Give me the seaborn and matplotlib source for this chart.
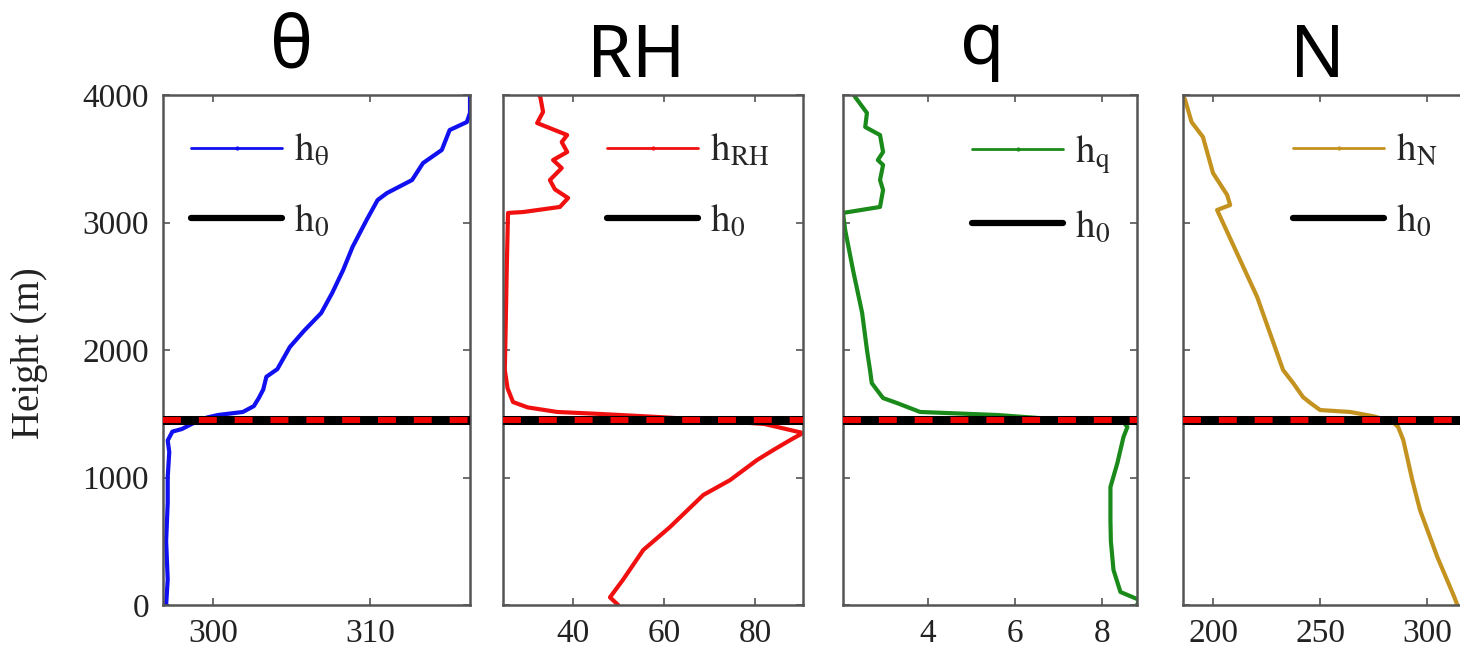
import numpy as np
import pandas as pd
import seaborn as sns
import matplotlib.pyplot as plt
from matplotlib.lines import Line2D

sns.set_theme(style="white")
plt.rcParams['font.family'] = ['Liberation Serif', 'DejaVu Serif']
plt.rcParams['mathtext.fontset'] = 'stix'

# ---- profile data: height (m) and variable value ----
theta_h = [0, 200, 500, 800, 1000, 1200, 1290, 1360, 1380, 1430, 1470, 1490, 1514, 1560,
           1620, 1690, 1790, 1850, 2024, 2150, 2290, 2447, 2627, 2808, 3020, 3176, 3231,
           3333, 3466, 3569, 3725, 3788, 3860, 4000]
theta_v = [297.0, 297.1, 297.0, 297.1, 297.1, 297.2, 297.1, 297.4, 298.0, 298.8, 299.6,
           300.3, 301.9, 302.6, 302.9, 303.2, 303.4, 304.1, 304.9, 305.8, 306.9, 307.6,
           308.3, 308.9, 309.8, 310.5, 311.1, 312.7, 313.4, 314.6, 315.1, 316.2, 316.4, 316.4]

rh_h = [0, 60, 200, 431, 612, 863, 980, 1137, 1216, 1300, 1349, 1420, 1450, 1475, 1500,
        1514, 1550, 1592, 1700, 1843, 2200, 2600, 3075, 3082, 3122, 3192, 3260, 3333, 3427,
        3490, 3553, 3631, 3686, 3780, 3867, 3984, 4000]
rh_v = [49.9, 48.1, 51.0, 55.4, 61.3, 68.6, 74.5, 80.4, 84.0, 88.0, 90.5, 82.0, 70.0, 58.4,
        45.0, 36.5, 30.0, 26.8, 25.6, 25.0, 25.2, 25.4, 25.7, 29.0, 37.1, 38.9, 36.0, 34.9,
        37.5, 35.6, 38.7, 37.5, 38.7, 32.1, 33.4, 32.8, 32.5]

q_h = [0, 40, 102, 275, 500, 667, 925, 1114, 1318, 1396, 1430, 1455, 1490, 1514, 1584,
       1623, 1686, 1741, 1843, 2000, 2290, 2627, 2941, 3075, 3100, 3122, 3255, 3333, 3451,
       3490, 3553, 3686, 3749, 3859, 3984, 4000]
q_v = [8.8, 8.85, 8.42, 8.26, 8.2, 8.19, 8.19, 8.35, 8.49, 8.58, 8.5, 7.0, 5.6, 3.82, 3.29,
       2.97, 2.83, 2.71, 2.67, 2.6, 2.49, 2.28, 2.1, 2.05, 2.5, 2.9, 2.97, 2.9, 2.97, 2.85,
       2.97, 2.9, 2.56, 2.6, 2.33, 2.3]

n_h = [0, 63, 376, 745, 980, 1294, 1396, 1435, 1480, 1514, 1529, 1584, 1631, 1686, 1741,
       1843, 2416, 2996, 3098, 3137, 3216, 3388, 3671, 3788, 3961, 4000]
n_v = [314.0, 312.6, 304.7, 296.6, 293.0, 288.8, 286.4, 284.0, 275.0, 264.0, 250.0, 245.5,
       242.0, 239.7, 237.4, 232.7, 220.6, 204.7, 201.9, 208.0, 206.6, 200.0, 195.3, 190.0,
       187.0, 186.0]

h0 = 1450  # reference height h_0

titles = ["θ", "RH", "q", "N"]
legend_labels = [r"$\mathrm{h}_{\mathrm{θ}}$", r"$\mathrm{h}_{\mathrm{RH}}$",
                 r"$\mathrm{h}_{\mathrm{q}}$", r"$\mathrm{h}_{\mathrm{N}}$"]
colors = ["#1010f0", "#f01010", "#1a8a1a", "#c4921e"]
xticks = [[300, 310], [40, 60, 80], [4, 6, 8], [200, 250, 300]]
xlims = [(296.8, 316.4), (24.6, 90.5), (2.05, 8.8), (186, 326)]
yticks = [0, 1000, 2000, 3000, 4000]

profiles = [(theta_v, theta_h), (rh_v, rh_h), (q_v, q_h), (n_v, n_h)]

fig = plt.figure(figsize=(14.6, 6.55), dpi=100)
W, H = 1460.0, 655.0
panel_px = [(163, 470), (503, 803), (843, 1137), (1183, 1483)]
top_px, bot_px = 95, 605
legend_x = [0.091, 0.347, 0.439, 0.367]
title_pos = [(292, 68), (636, 77), (982, 64), (1317, 77)]

for i, (l, r) in enumerate(panel_px):
    ax = fig.add_axes([l / W, 1 - bot_px / H, (r - l) / W, (bot_px - top_px) / H])
    xv, hv = profiles[i]
    df = pd.DataFrame({"value": xv, "height": hv})
    sns.lineplot(data=df, x="value", y="height", orient="y", sort=False, estimator=None,
                 color=colors[i], lw=3.0, ax=ax, zorder=2)
    ax.axhline(h0, color="black", lw=6.5, zorder=3)
    ax.axhline(h0, color="#ee0000", lw=4.3, ls=(0, (3, 3)), zorder=4)

    ax.set_xlim(*xlims[i])
    ax.set_ylim(0, 4000)
    ax.set_xticks(xticks[i])
    ax.set_yticks(yticks)
    ax.set_xlabel("")
    ax.set_ylabel("")
    ax.tick_params(direction="in", length=5, width=1.2, color="#555555",
                   top=True, right=True, bottom=True, left=True,
                   labelsize=24, labelcolor="#222222", pad=10)
    if i > 0:
        ax.tick_params(labelleft=False)
    for sp in ax.spines.values():
        sp.set_visible(True)
        sp.set_color("#555555")
        sp.set_linewidth(1.8)

    handles = [Line2D([], [], color=colors[i], lw=2.0, marker=".", markersize=4),
               Line2D([], [], color="black", lw=4.5)]
    ax.legend(handles, [legend_labels[i], r"$\mathrm{h}_{0}$"], loc="upper left",
              bbox_to_anchor=(legend_x[i], 0.925), frameon=False, fontsize=28,
              borderpad=0, borderaxespad=0, handlelength=2.35, handletextpad=0.3,
              labelspacing=0.85)

    tx, ty = title_pos[i]
    fig.text(tx / W, 1 - ty / H, titles[i], fontsize=52, family="Noto Sans",
             ha="center", va="baseline", color="black")

fig.text(30 / W, 1 - 353 / H, "Height (m)", rotation=90, ha="center", va="center",
         fontsize=28, color="#222222")

fig.savefig("out.png", dpi=100)
